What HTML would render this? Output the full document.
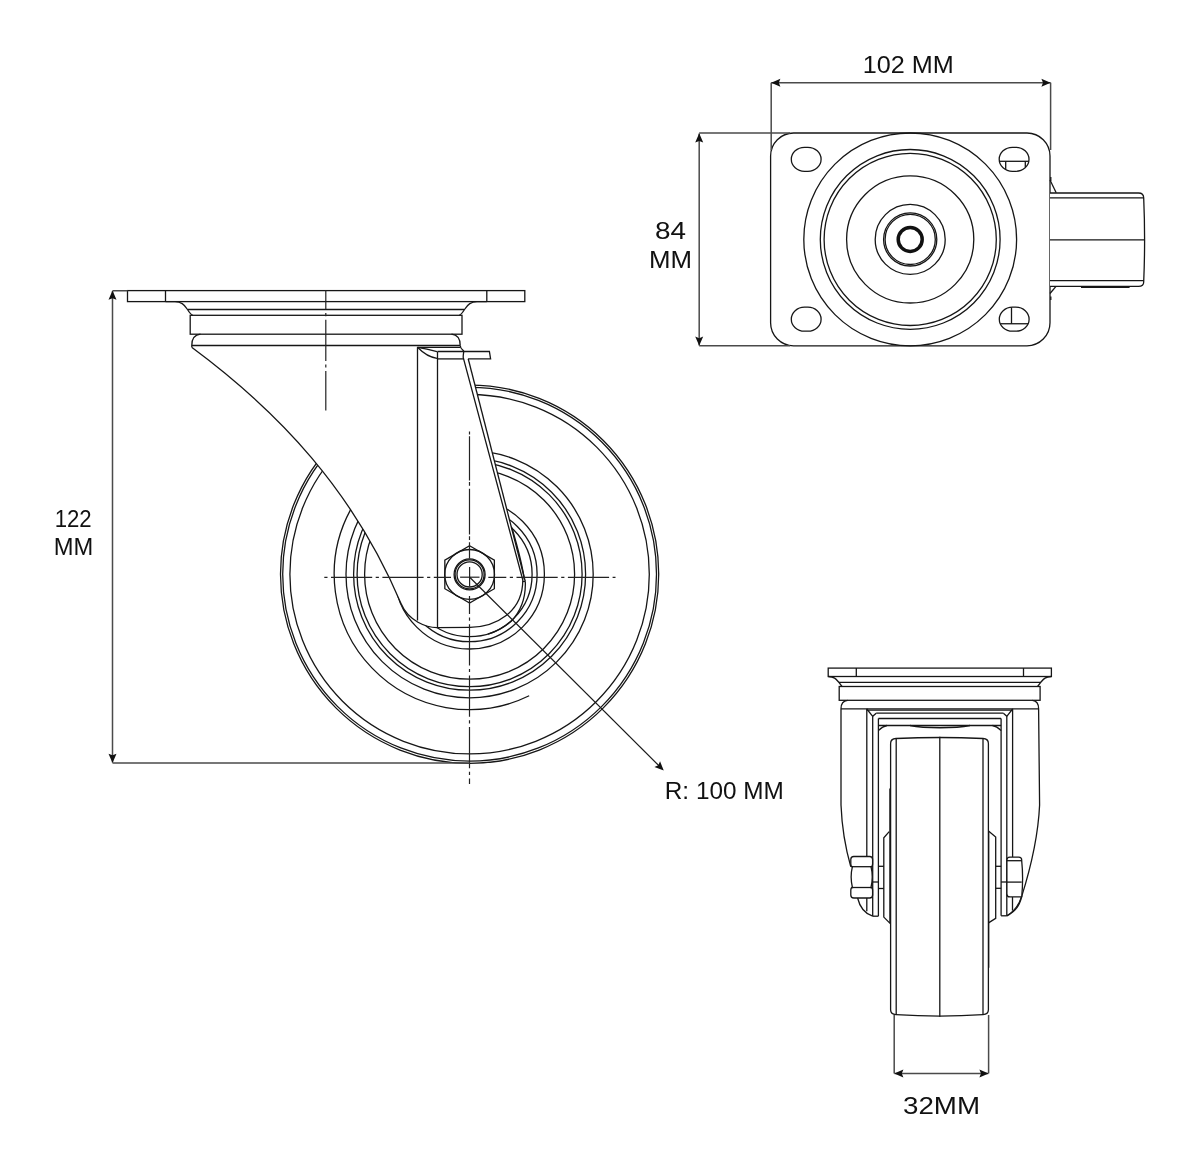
<!DOCTYPE html>
<html><head><meta charset="utf-8"><style>
html,body{margin:0;padding:0;background:#fff;width:1200px;height:1175px;overflow:hidden}
svg{display:block}
.l{fill:none;stroke:#161616;stroke-width:1.3}
.l2{fill:none;stroke:#161616;stroke-width:1.7}
.lb{fill:none;stroke:#111;stroke-width:3.5}
.wl{fill:#fff;stroke:#161616;stroke-width:1.3}
.wf{fill:#fff;stroke:none}
.d{fill:none;stroke:#4a4a4a;stroke-width:1.5}
.cl{fill:none;stroke:#222;stroke-width:1.2}
.ah{fill:#111;stroke:none}
text{font-family:"Liberation Sans",sans-serif;fill:#111;-webkit-font-smoothing:antialiased}
svg text{transform:translateZ(0)}
</style></head><body>
<svg width="1200" height="1175" viewBox="0 0 1200 1175">
<circle class="l" cx="469.6" cy="574.2" r="189.1" />
<circle class="l" cx="469.6" cy="574.2" r="186.9" />
<circle class="l" cx="469.6" cy="574.2" r="179.7" />
<circle class="l" cx="469.6" cy="574.2" r="123.6" />
<circle class="l" cx="469.6" cy="574.2" r="116" />
<circle class="l" cx="469.6" cy="574.2" r="112.5" />
<circle class="l" cx="469.6" cy="574.2" r="105" />
<circle class="l" cx="469.6" cy="574.2" r="74.8" />
<circle class="l" cx="469.6" cy="574.2" r="67.5" />
<circle class="l" cx="469.6" cy="574.2" r="62.5" />
<path class="l" d="M350.61,509.59 A135.4,135.4 0 0 0 529.17,695.79" />
<path class="wf" d="M192,347.5 C279.5,412.4 353.3,490.7 401,603.6 C408.5,621.3 426.7,627.6 437,627.6 L470,627.4 C496,627 522,612 522.8,580 L525.3,581.5 L468.2,358.75 L463.2,357.5 L463.8,351.25 L417.5,347.3 L192,347.5 Z" />
<path class="l" d="M192,347.5 C279.5,412.4 353.3,490.7 401,603.6 C408.5,621.3 426.7,627.6 437,627.6" />
<path class="l" d="M437,627.6 L470,627.4 C496,627 522.8,612 522.8,580" />
<path class="l" d="M460.2,345.5 C460.6,349.5 463,349.5 463.8,351.25 C463.5,353.5 463.1,355.5 463.2,357.5 L522.8,580" />
<line class="l" x1="468.2" y1="358.75" x2="525.3" y2="581.5" />
<line class="l" x1="522.8" y1="581.5" x2="525.3" y2="581.5" />
<path class="l" d="M525.3,581.5 C526,600 520,612 511,621.5 C503,628 495,632 488,634" />
<path class="l" d="M511.9,527.7 C517,545 522,562 524.3,579.5" />
<line class="l" x1="417.5" y1="347.3" x2="417.5" y2="620.5" />
<line class="l" x1="437.5" y1="351.5" x2="437.5" y2="627.8" />
<path class="l" d="M417.5,347.3 C424,354 430,357.5 437,358.3" />
<path class="l" d="M417.5,347.3 C425,348.5 431,350 437,351.7" />
<path class="l" d="M437.5,351.5 L489.4,351.5 L490.6,358.9 L468.2,358.9" />
<line class="l" x1="437.5" y1="358.9" x2="463.4" y2="358.9" />
<rect class="l" x="127.5" y="290.6" width="397.3" height="11" rx="0" />
<line class="l" x1="165.5" y1="290.6" x2="165.5" y2="301.6" />
<line class="l" x1="486.8" y1="290.6" x2="486.8" y2="301.6" />
<path class="l" d="M165.5,301.6 L175,301.7 C181,302 184,304 187.5,309.5 C189,312 190.5,314.5 192.8,315.3" />
<path class="l" d="M486.8,301.6 L477,301.7 C471,302 468,304 464.5,309.5 C463,312 461.5,314.5 459.2,315.3" />
<line class="l" x1="188" y1="309.5" x2="464" y2="309.5" />
<rect class="l" x="190.2" y="315.3" width="271.8" height="18.9" rx="0" />
<path class="l" d="M200.5,334.2 C194,334.8 191.8,339 191.8,345.5 L191.8,347.4" />
<path class="l" d="M451.5,334.2 C458,334.8 460.2,339 460.2,345.5" />
<line class="l" x1="191.8" y1="345.5" x2="460.2" y2="345.5" />
<line class="l" x1="417.5" y1="347.3" x2="460.2" y2="347.3" />
<path class="wl" d="M469.6,545.8 L494.37,560.1 L494.37,588.7 L469.6,603 L444.83,588.7 L444.83,560.1 Z" />
<circle class="l" cx="469.6" cy="574.4" r="24.9" />
<circle class="l" cx="469.6" cy="574.4" r="15.5" stroke-width="1.1"/>
<circle class="l" cx="469.6" cy="574.4" r="14.5" stroke-width="0.7"/>
<circle class="l" cx="469.6" cy="574.4" r="12.6" stroke-width="1.4"/>
<path class="cl" d="M325.8,290 L325.8,410.6" stroke-dasharray="41.2 3.5 3.2 3.5" stroke-dashoffset="21.7"/>
<path class="cl" d="M324.3,577.3 L451,577.3" stroke-dasharray="3.2 3.5 41.2 3.5"/>
<path class="cl" d="M488.3,577.3 L615.5,577.3" stroke-dasharray="41.2 3.5 3.2 3.5" stroke-dashoffset="23.2"/>
<line class="cl" x1="460.1" y1="577.2" x2="479.5" y2="577.2" />
<line class="cl" x1="469.6" y1="567" x2="469.6" y2="586.6" />
<path class="cl" d="M469.5,431.5 L469.5,558.5" stroke-dasharray="3 1.8 44.1 1.7 3.6 3 45.8 1.8 3.6 2.4 20 100"/>
<path class="cl" d="M469.5,596 L469.5,784" stroke-dasharray="41.2 3.5 3.2 3.5" stroke-dashoffset="23.2"/>
<line class="l" x1="469.7" y1="577.2" x2="660" y2="766.8" style="stroke:#1a1a1a;stroke-width:1.2"/>
<path class="ah" d="M663.75,770.6 L660.05,761.27 L658.36,765.24 L654.41,766.94 Z"/>
<text x="664.8" y="799" font-size="24" text-anchor="start" textLength="119" lengthAdjust="spacingAndGlyphs">R: 100 MM</text>
<line class="d" x1="112.5" y1="291" x2="112.5" y2="762.5" />
<path class="ah" d="M112.5,290.6 L108.5,299.8 L112.5,298.2 L116.5,299.8 Z"/>
<path class="ah" d="M112.5,762.9 L116.5,753.7 L112.5,755.3 L108.5,753.7 Z"/>
<line class="d" x1="112.5" y1="290.75" x2="127.5" y2="290.75" />
<line class="d" x1="112.5" y1="763" x2="469.6" y2="763" />
<text x="73.2" y="527" font-size="24" text-anchor="middle" textLength="37" lengthAdjust="spacingAndGlyphs">122</text>
<text x="73.4" y="555" font-size="24" text-anchor="middle" textLength="39.5" lengthAdjust="spacingAndGlyphs">MM</text>
<rect class="l" x="770.6" y="133" width="279.4" height="212.8" rx="23" />
<rect class="l" x="791.3" y="147.3" width="29.8" height="24" rx="13.2" ry="12"/>
<rect class="l" x="999.2" y="147.3" width="29.8" height="24" rx="13.2" ry="12"/>
<rect class="l" x="791.3" y="307.2" width="29.8" height="24" rx="13.2" ry="12"/>
<rect class="l" x="999.3" y="307.2" width="29.8" height="24" rx="13.2" ry="12"/>
<line class="l" x1="999.4" y1="161.3" x2="1028.8" y2="161.3" />
<line class="l" x1="1005.7" y1="161.3" x2="1005.7" y2="169.6" />
<line class="l" x1="1025.3" y1="161.3" x2="1025.3" y2="167" />
<line class="l" x1="1011.5" y1="307.4" x2="1011.5" y2="323.75" />
<line class="l" x1="1000.3" y1="323.75" x2="1028.1" y2="323.75" />
<circle class="l" cx="910.2" cy="239.4" r="106.4" />
<circle class="l" cx="910.2" cy="239.4" r="89.9" />
<circle class="l" cx="910.2" cy="239.4" r="86.1" />
<circle class="l" cx="910.2" cy="239.4" r="63.6" />
<circle class="l" cx="910.2" cy="239.4" r="35" />
<circle class="l" cx="910.2" cy="239.4" r="26.6" />
<circle class="l" cx="910.2" cy="239.4" r="25.1" />
<circle class="lb" cx="910.2" cy="239.4" r="12" />
<path class="wl" d="M1050,193 L1138.5,193 Q1143.7,193 1143.7,198 Q1145.5,240 1143.7,282 Q1143.7,286.4 1138.5,286.4 L1050,286.4" />
<line class="l" x1="1050" y1="197.9" x2="1143.7" y2="197.9" />
<line class="l" x1="1050" y1="239.8" x2="1145" y2="239.8" />
<line class="l" x1="1050" y1="280.7" x2="1143.7" y2="280.7" />
<line class="l" x1="1081" y1="287.3" x2="1129.6" y2="287.3" stroke-width="1.6"/>
<path class="l" d="M1050,180 L1056.2,192.8" />
<line class="l" x1="1050.8" y1="177" x2="1050.8" y2="181" stroke-width="1.8"/>
<path class="l" d="M1050,293.5 L1056,286.4" />
<line class="l" x1="1050.8" y1="296.5" x2="1050.8" y2="300" stroke-width="1.8"/>
<line class="d" x1="771.2" y1="82.8" x2="1050.6" y2="82.8" />
<path class="ah" d="M771.2,82.8 L780.4,86.8 L778.8,82.8 L780.4,78.8 Z"/>
<path class="ah" d="M1050.6,82.7 L1041.4,78.7 L1043,82.7 L1041.4,86.7 Z"/>
<line class="d" x1="771.2" y1="82.8" x2="771.2" y2="150" />
<line class="d" x1="1050.6" y1="82.7" x2="1050.6" y2="150" />
<text x="908.2" y="72.7" font-size="24" text-anchor="middle" textLength="91" lengthAdjust="spacingAndGlyphs">102 MM</text>
<line class="d" x1="699.2" y1="133.5" x2="699.2" y2="345.6" />
<path class="ah" d="M699.2,133.3 L695.2,142.5 L699.2,140.9 L703.2,142.5 Z"/>
<path class="ah" d="M699.2,345.8 L703.2,336.6 L699.2,338.2 L695.2,336.6 Z"/>
<line class="d" x1="699.2" y1="133.1" x2="790" y2="133.1" />
<line class="d" x1="699.2" y1="345.8" x2="790" y2="345.8" />
<text x="670.4" y="238.75" font-size="24" text-anchor="middle" textLength="31" lengthAdjust="spacingAndGlyphs">84</text>
<text x="670.6" y="268.3" font-size="24" text-anchor="middle" textLength="43" lengthAdjust="spacingAndGlyphs">MM</text>
<path class="wf" d="M847.6,700.3 C843,700.6 841,704 841,708.8 L841,805 C842,830 846,850 850.8,866.7 L850.8,898 L857.6,898 C860,908 866,914 872.9,916.2 L1006.9,915.8 C1015,912 1020,905 1021.7,896.4 C1030,870 1038,840 1039.6,805 L1038.6,708.8 C1038.6,704 1036.5,700.6 1032.4,700.3 Z" />
<path class="l" d="M847.6,700.3 C843,700.6 841,704 841,708.8 L841,805 C842,830 846,850 850.8,866.7" />
<path class="l" d="M1032.4,700.3 C1036.5,700.6 1038.6,704 1038.6,708.8 L1039.6,805 C1038,840 1030,870 1021.7,896.4 C1020,905 1015,912 1006.9,915.8" />
<rect class="l" x="828.2" y="668.1" width="223.2" height="8.4" rx="0" />
<line class="l" x1="856.3" y1="668.1" x2="856.3" y2="676.5" />
<line class="l" x1="1023.5" y1="668.1" x2="1023.5" y2="676.5" />
<path class="l" d="M828.2,676.5 C835,677 836,679 838.9,682.4 L842,686.5" />
<path class="l" d="M1051.4,676.5 C1044.6,677 1043.6,679 1040.7,682.4 L1037.6,686.5" />
<line class="l" x1="838.9" y1="682.4" x2="1040.7" y2="682.4" />
<rect class="l" x="839.2" y="686.5" width="200.9" height="13.8" rx="0" />
<line class="l" x1="841" y1="708.8" x2="1038.6" y2="708.8" />
<line class="l" x1="866.8" y1="708.8" x2="866.8" y2="856.5" />
<line class="l" x1="866.8" y1="898" x2="866.8" y2="911.3" />
<line class="l" x1="872.7" y1="716.3" x2="872.7" y2="916.2" />
<line class="l" x1="878.4" y1="718.5" x2="878.4" y2="916.2" />
<line class="l" x1="872.7" y1="916.2" x2="878.4" y2="916.2" />
<line class="l" x1="1012.6" y1="708.8" x2="1012.6" y2="857" />
<line class="l" x1="1006.8" y1="716.3" x2="1006.8" y2="915.8" />
<line class="l" x1="1001.1" y1="718.5" x2="1001.1" y2="915.8" />
<line class="l" x1="866.8" y1="710.2" x2="1012.6" y2="710.2" />
<line class="l" x1="876.2" y1="713.2" x2="1003.4" y2="713.2" />
<line class="l" x1="878.4" y1="718.5" x2="1001.1" y2="718.5" />
<line class="l" x1="878.4" y1="725.5" x2="1001.1" y2="725.5" />
<path class="l" d="M866.8,709 L872.7,716.3 L876.2,713.2" />
<path class="l" d="M1012.6,709 L1006.8,716.3 L1003.4,713.2" />
<path class="l" d="M878.4,730.6 C881,728 884,726 887,725.5" />
<path class="l" d="M1001.1,730.6 C998.5,728 995.5,726 992.5,725.5" />
<path class="l" d="M910,725.5 C925,728.5 955,728.5 970,725.5" />
<path class="wl" d="M890.6,743.5 Q890.6,738.8 896,738.5 Q940,736.5 983,738.5 Q988.4,738.8 988.4,743.5 L988.4,1009.8 Q988.4,1014.4 983,1014.6 Q940,1017.5 896,1014.6 Q890.6,1014.4 890.6,1009.8 Z" />
<line class="l" x1="896.2" y1="738.6" x2="896.2" y2="1014.6" />
<line class="l" x1="983" y1="738.6" x2="983" y2="1014.6" />
<line class="l" x1="939.8" y1="736.8" x2="939.8" y2="1016.8" />
<line class="l" x1="889.9" y1="788.5" x2="889.9" y2="923" stroke-width="1.9"/>
<line class="l" x1="988.7" y1="832" x2="988.7" y2="967.8" stroke-width="2"/>
<path class="l" d="M889.2,831.6 L883.8,837.7 L883.8,917.1 L890.3,923.6" />
<path class="l" d="M988.5,831 L995.7,837 L995.7,918.3 L988.5,922.9" />
<line class="l" x1="878.4" y1="866.3" x2="883.8" y2="866.3" />
<line class="l" x1="878.4" y1="888.5" x2="883.8" y2="888.5" />
<line class="l" x1="872.7" y1="882" x2="878.4" y2="882" />
<path class="l" d="M857.6,898 C860,908 866,914 872.7,916.2" />
<path class="wl" d="M853.8,856.5 L869.6,856.5 Q872.6,856.5 872.6,859.5 L872.6,863.7 Q872.6,866.7 871,866.7 Q873.5,877 871,887.5 Q872.6,887.5 872.6,890.5 L872.6,895 Q872.6,898 869.6,898 L853.8,898 Q850.8,898 850.8,895 L850.8,890.5 Q850.8,887.5 852.4,887.5 Q849.9,877 852.4,866.7 Q850.8,866.7 850.8,863.7 L850.8,859.5 Q850.8,856.5 853.8,856.5 Z" />
<line class="l" x1="851.5" y1="866.7" x2="872" y2="866.7" />
<line class="l" x1="851.5" y1="887.5" x2="872" y2="887.5" />
<path class="l" d="M1021.7,896.4 C1019,905 1013,912 1006.9,915.8" />
<line class="l" x1="1012.5" y1="897" x2="1012.5" y2="910.6" />
<path class="wl" d="M1009.9,857.1 L1018.7,857.1 Q1021.7,857.1 1021.7,860.1 L1021.7,860.7 Q1023.5,878 1021.7,896.9 L1009.9,896.9 Q1006.9,896.9 1006.9,893.9 L1006.9,860.1 Q1006.9,857.1 1009.9,857.1 Z" />
<line class="l" x1="1006.9" y1="860.7" x2="1021.7" y2="860.7" />
<line class="l" x1="1006.9" y1="882.1" x2="1021.7" y2="882.1" />
<line class="l" x1="995.7" y1="866.3" x2="1001.1" y2="866.3" />
<line class="l" x1="995.7" y1="888.3" x2="1001.1" y2="888.3" />
<line class="l" x1="1001.1" y1="882" x2="1006.9" y2="882" />
<line class="l" x1="1001.1" y1="915.8" x2="1006.9" y2="915.8" />
<line class="d" x1="894.2" y1="1015" x2="894.2" y2="1073.4" />
<line class="d" x1="988.6" y1="1015" x2="988.6" y2="1073.4" />
<line class="d" x1="894.5" y1="1073.4" x2="988.3" y2="1073.4" />
<path class="ah" d="M894.2,1073.4 L903.4,1077.4 L901.8,1073.4 L903.4,1069.4 Z"/>
<path class="ah" d="M988.6,1073.4 L979.4,1069.4 L981,1073.4 L979.4,1077.4 Z"/>
<text x="941.5" y="1114.3" font-size="24" text-anchor="middle" textLength="77" lengthAdjust="spacingAndGlyphs">32MM</text>
</svg>
</body></html>
